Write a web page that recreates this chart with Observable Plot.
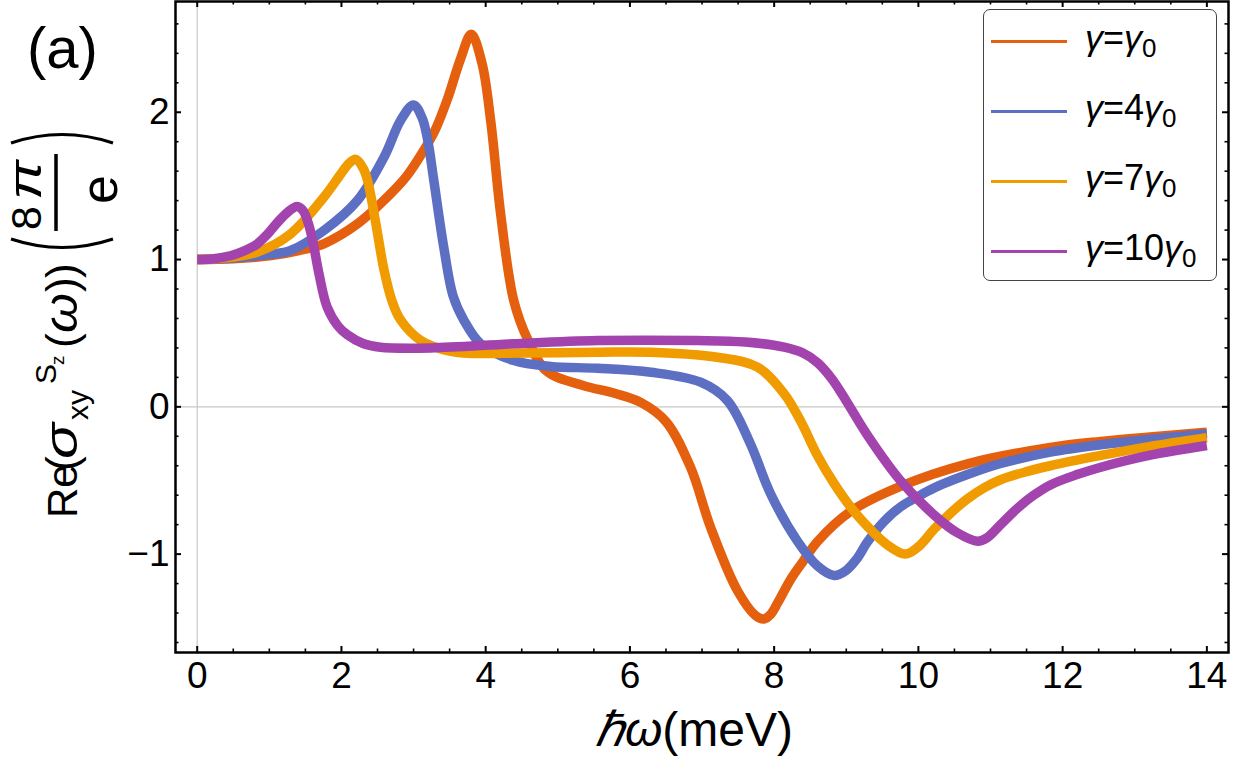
<!DOCTYPE html>
<html><head><meta charset="utf-8">
<script src="https://cdn.jsdelivr.net/npm/d3@7"></script>
<script src="https://cdn.jsdelivr.net/npm/@observablehq/plot@0.6"></script>
<style>
body{margin:0;background:#fff;font-family:"Liberation Sans",Arial,sans-serif;}
#wrap{position:relative;width:1257px;height:764px;overflow:hidden;}
#wrap svg{position:absolute;left:0;top:0;}
#legend{position:absolute;left:983px;top:9px;width:234px;height:272px;border:1.5px solid #444;border-radius:7px;background:#fff;box-sizing:border-box;}
.item{position:absolute;left:0;width:230px;height:0;}
.item .ln{position:absolute;left:7px;top:-1.5px;width:76px;height:3px;}
.item .tx{position:absolute;left:101px;top:-24px;font-size:36px;line-height:42px;white-space:nowrap;color:#000;}
.item .tx i{font-style:italic;}
.item .tx sub{font-size:26px;vertical-align:-7px;line-height:0;}
</style></head><body><div id="wrap"></div>
<script>
// ---- data ----
const seriesNames = ["γ=γ0", "γ=4γ0", "γ=7γ0", "γ=10γ0"];
const seriesColors = ["#E4600E", "#5D6FC2", "#F09B00", "#A343AE"];

const omega1 = [0, 0.5, 1.0, 1.5, 1.756, 2.22, 2.68, 2.91, 3.14, 3.3, 3.47, 3.65, 3.8, 3.95, 4.07, 4.21, 4.39, 4.58, 4.85, 5.35, 5.8, 6.15, 6.5, 6.84, 7.12, 7.49, 7.75, 7.86, 7.95, 8.05, 8.23, 8.4, 8.6, 9.06, 9.75, 10.68, 11.83, 12.53, 14];
const sigma1 = [1.0, 1.005, 1.025, 1.07, 1.107, 1.242, 1.446, 1.57, 1.74, 1.88, 2.09, 2.36, 2.53, 2.33, 1.94, 1.30, 0.72, 0.46, 0.24, 0.145, 0.09, 0.03, -0.10, -0.41, -0.82, -1.247, -1.42, -1.44, -1.41, -1.33, -1.17, -1.05, -0.915, -0.71, -0.54, -0.387, -0.276, -0.235, -0.172];

const omega2 = [0, 0.5, 1.0, 1.294, 1.756, 2.22, 2.59, 2.82, 3.0, 3.12, 3.2, 3.28, 3.42, 3.55, 3.7, 3.93, 4.39, 4.9, 5.55, 6.29, 6.98, 7.35, 7.67, 7.95, 8.32, 8.6, 8.83, 9.0, 9.15, 9.29, 9.52, 9.75, 9.99, 10.22, 10.68, 11.14, 11.83, 12.53, 14];
const sigma2 = [1.0, 1.01, 1.035, 1.061, 1.197, 1.40, 1.695, 1.944, 2.05, 1.96, 1.80, 1.54, 1.08, 0.75, 0.586, 0.428, 0.314, 0.274, 0.262, 0.235, 0.167, 0.043, -0.25, -0.59, -0.91, -1.08, -1.145, -1.11, -1.03, -0.92, -0.78, -0.68, -0.61, -0.55, -0.46, -0.385, -0.308, -0.258, -0.183];

const omega3 = [0, 0.4, 0.83, 1.294, 1.756, 1.99, 2.1, 2.2, 2.3, 2.36, 2.47, 2.59, 2.7, 2.82, 3.1, 3.4, 3.7, 4.5, 5.55, 6.29, 7.21, 7.77, 8.14, 8.37, 8.6, 8.83, 9.06, 9.29, 9.55, 9.82, 10.0, 10.22, 10.45, 10.68, 10.91, 11.14, 11.5, 11.83, 12.53, 13.2, 14];
const sigma3 = [1.0, 1.012, 1.05, 1.174, 1.423, 1.58, 1.65, 1.68, 1.62, 1.54, 1.265, 0.93, 0.72, 0.59, 0.45, 0.39, 0.365, 0.365, 0.371, 0.371, 0.337, 0.269, 0.088, -0.10, -0.33, -0.52, -0.68, -0.81, -0.93, -1.0, -0.95, -0.83, -0.72, -0.625, -0.55, -0.495, -0.44, -0.40, -0.33, -0.27, -0.21];

const omega4 = [0, 0.2, 0.37, 0.55, 0.7, 0.83, 0.97, 1.11, 1.25, 1.387, 1.47, 1.55, 1.62, 1.69, 1.8, 1.95, 2.08, 2.3, 2.54, 3.24, 4.39, 5.55, 6.93, 7.6, 8.14, 8.4, 8.6, 8.8, 9.0, 9.29, 9.75, 10.22, 10.54, 10.82, 10.95, 11.14, 11.37, 11.6, 11.83, 12.2, 12.53, 13.2, 14];
const sigma4 = [1.0, 1.004, 1.016, 1.04, 1.07, 1.105, 1.17, 1.25, 1.32, 1.36, 1.33, 1.23, 1.08, 0.90, 0.68, 0.55, 0.49, 0.43, 0.405, 0.40, 0.428, 0.45, 0.45, 0.44, 0.405, 0.365, 0.30, 0.19, 0.04, -0.19, -0.50, -0.735, -0.855, -0.912, -0.89, -0.80, -0.69, -0.60, -0.53, -0.46, -0.41, -0.33, -0.263];

const xTicks = [0, 2, 4, 6, 8, 10, 12, 14];
const yTicks = [-1, 0, 1, 2];

// ---- build table ----
const omegas = [omega1, omega2, omega3, omega4];
const sigmas = [sigma1, sigma2, sigma3, sigma4];
const rows = [];
seriesNames.forEach((s, k) => omegas[k].forEach((w, i) => rows.push({series: s, x: w, y: sigmas[k][i]})));

const W = 1257, H = 764, mL = 175, mR = 29, mT = 1, mB = 112;
const fw = W - mL - mR, fh = H - mT - mB;
const xMinor = d3.range(0, 14.001, 0.5).filter(v => !xTicks.includes(v));
const yMinor = d3.range(-16, 27, 2).map(v => v / 10).filter(v => !yTicks.includes(v));
const FONT = "Liberation Sans, Arial, sans-serif";
const fmt = d => (d < 0 ? "−" : "") + Math.abs(d);

const plot = Plot.plot({
  width: W, height: H,
  marginLeft: mL, marginRight: mR, marginTop: mT, marginBottom: mB,
  style: {fontFamily: FONT, background: "white", overflow: "visible"},
  x: {domain: [-0.301, 14.30]},
  y: {domain: [-1.668, 2.752]},
  color: {domain: seriesNames, range: seriesColors},
  marks: [
    Plot.ruleX([0], {stroke: "#c8c8c8", strokeWidth: 1.2}),
    Plot.ruleY([0], {stroke: "#c8c8c8", strokeWidth: 1.2}),
    Plot.line(rows, {x: "x", y: "y", z: "series", stroke: "series", strokeWidth: 9.5, curve: "catmull-rom", strokeLinecap: "butt", strokeLinejoin: "round"}),
    Plot.tickX(xTicks, {x: d => d, insetTop: fh - 6, stroke: "black", strokeWidth: 2}),
    Plot.tickX(xTicks, {x: d => d, insetBottom: fh - 6, stroke: "black", strokeWidth: 2}),
    Plot.tickX(xMinor, {x: d => d, insetTop: fh - 3.5, stroke: "black", strokeWidth: 1.6}),
    Plot.tickX(xMinor, {x: d => d, insetBottom: fh - 3.5, stroke: "black", strokeWidth: 1.6}),
    Plot.tickY(yTicks, {y: d => d, insetRight: fw - 6, stroke: "black", strokeWidth: 2}),
    Plot.tickY(yTicks, {y: d => d, insetLeft: fw - 6, stroke: "black", strokeWidth: 2}),
    Plot.tickY(yMinor, {y: d => d, insetRight: fw - 3.5, stroke: "black", strokeWidth: 1.6}),
    Plot.tickY(yMinor, {y: d => d, insetLeft: fw - 3.5, stroke: "black", strokeWidth: 1.6}),
    Plot.frame({stroke: "black", strokeWidth: 2.5}),
    Plot.axisX({ticks: xTicks, tickFormat: fmt, tickSize: 0, tickPadding: 9, fontSize: 37, label: null}),
    Plot.axisY({ticks: yTicks, tickFormat: fmt, tickSize: 0, tickPadding: 6, fontSize: 37, label: null})
  ]
});
document.getElementById("wrap").appendChild(plot);

// ---- labels ----
const svg = d3.select(plot);
svg.append("text").attr("x", 27).attr("y", 68).attr("text-anchor", "start").attr("font-size", 58).attr("font-family", FONT).text("(a)");

const xl = svg.append("text").attr("x", 694).attr("y", 746).attr("text-anchor", "middle").attr("font-size", 48).attr("font-family", FONT);
xl.append("tspan").attr("font-style", "italic").text("ℏω");
xl.append("tspan").text("(meV)");

const g = svg.append("g").attr("transform", "translate(77,518) rotate(-90)").attr("font-family", FONT).attr("text-anchor", "start");
const piece = (u, v, fs, t, it, len) => {
  const e = g.append("text").attr("x", u).attr("y", v).attr("font-size", fs).attr("text-anchor", "start").text(t);
  if (it) e.attr("font-style", "italic");
  if (len) e.attr("textLength", len).attr("lengthAdjust", "spacingAndGlyphs");
};
piece(0, 0, 42, "Re");
piece(47, 0, 44, "(");
piece(59, 0, 46, "σ", true, 36);
piece(98, 11, 30, "xy");
piece(134, -21, 30, "S");
piece(153, -13, 19, "z");
piece(170, 0, 44, "(");
piece(185, 0, 46, "ω", true, 40);
piece(226, 0, 44, ")");
piece(240, 0, 44, ")");
// big parentheses around the fraction
g.append("path").attr("d", "M279,-66 Q262,-15 279,36").attr("fill", "none").attr("stroke", "black").attr("stroke-width", 3);
g.append("path").attr("d", "M375,-66 Q392,-15 375,36").attr("fill", "none").attr("stroke", "black").attr("stroke-width", 3);
piece(288, -36, 43, "8");
piece(318, -36, 46, "π", true, 40);
g.append("line").attr("x1", 287).attr("x2", 364).attr("y1", -21).attr("y2", -21).attr("stroke", "black").attr("stroke-width", 3.5);
piece(314, 40, 52, "e");

// ---- legend ----
const leg = d3.select("#wrap").append("div").attr("id", "legend");
const legendText = ["<i>γ</i>=<i>γ</i><sub>0</sub>", "<i>γ</i>=4<i>γ</i><sub>0</sub>", "<i>γ</i>=7<i>γ</i><sub>0</sub>", "<i>γ</i>=10<i>γ</i><sub>0</sub>"];
seriesNames.forEach((s, k) => {
  const it = leg.append("div").attr("class", "item").style("top", (31 + 70 * k) + "px");
  it.append("div").attr("class", "ln").style("background", seriesColors[k]);
  it.append("div").attr("class", "tx").html(legendText[k]);
});
</script>
</body></html>
